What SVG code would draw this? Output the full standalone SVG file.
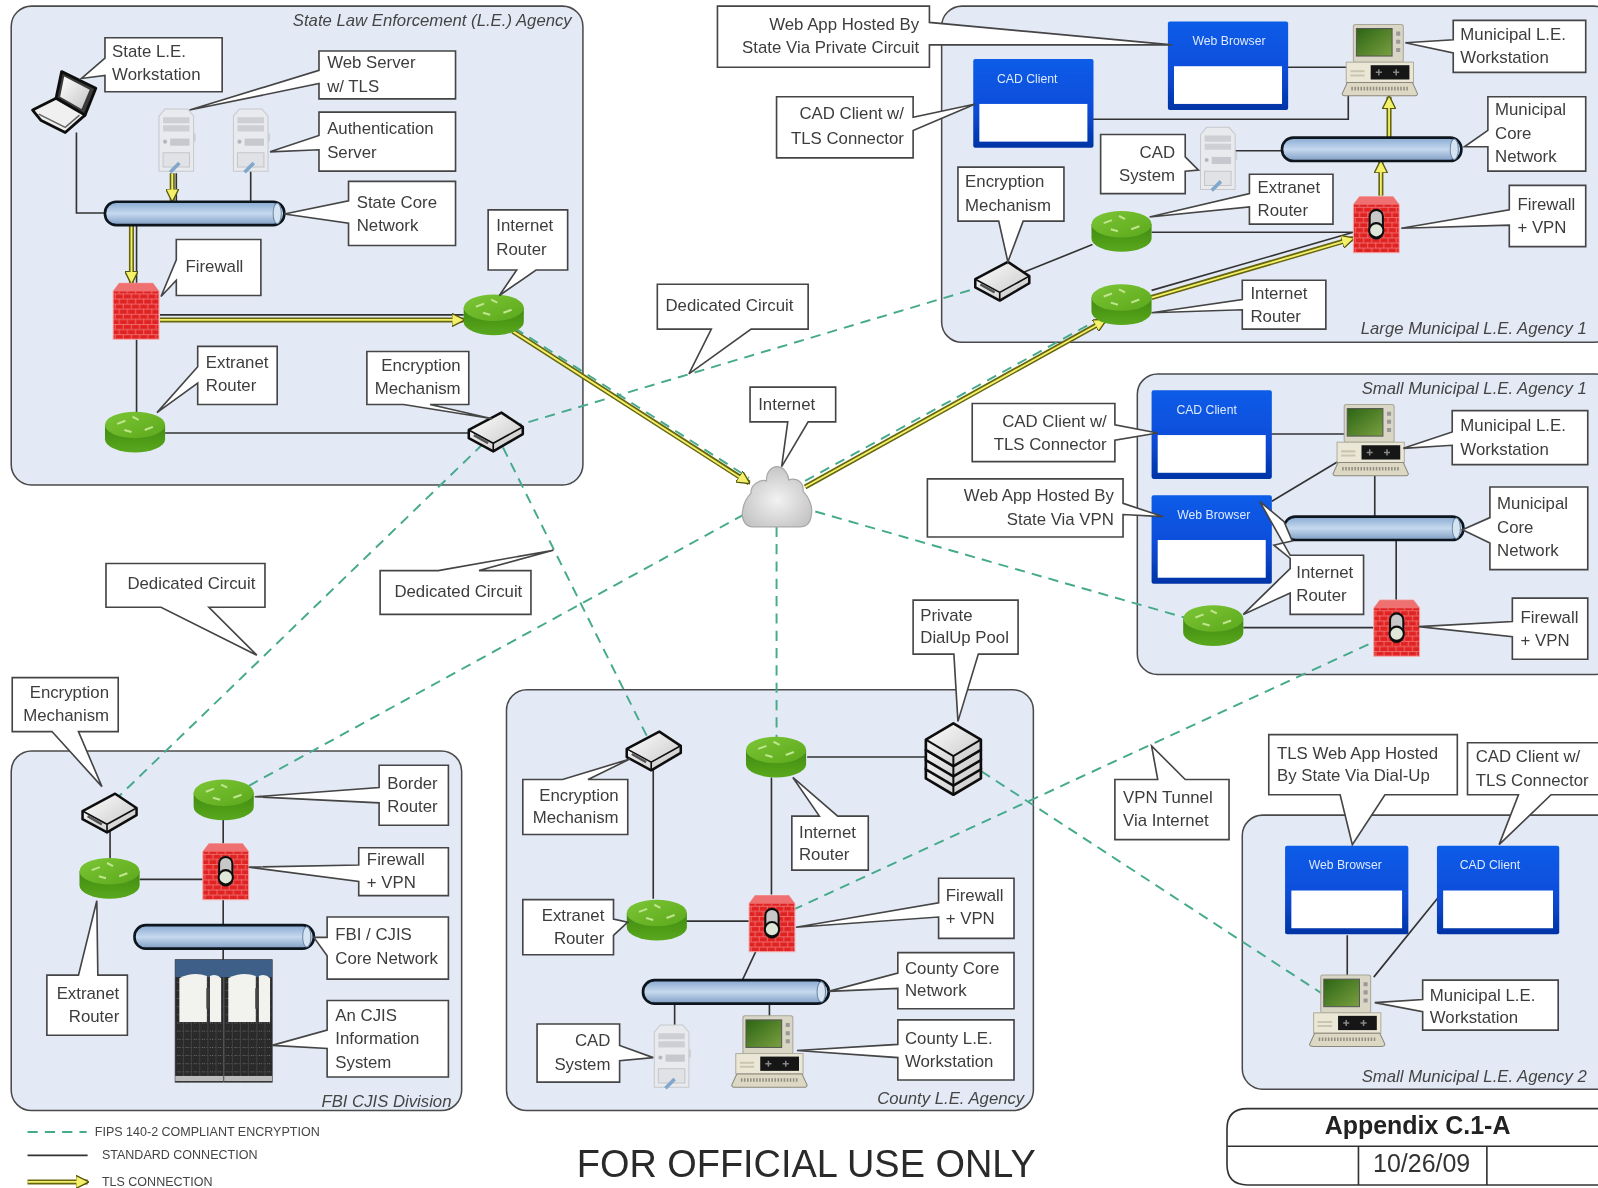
<svg xmlns="http://www.w3.org/2000/svg" width="1598" height="1188" viewBox="0 0 1598 1188">
<style>
.panel{fill:#e3eaf6;stroke:#4a4a4a;stroke-width:1.5}
.co{fill:#fff;stroke:#444;stroke-width:1.6;stroke-linejoin:miter}
.t{font-family:"Liberation Sans",Arial,sans-serif;font-size:16.5px;fill:#3c3c3c}
.r{text-anchor:end}
.p{font-family:"Liberation Sans",Arial,sans-serif;font-size:16.4px;font-style:italic;fill:#444;text-anchor:end}
.w{font-family:"Liberation Sans",Arial,sans-serif;font-size:12px;fill:#dfe9ff;text-anchor:middle}
.l{font-family:"Liberation Sans",Arial,sans-serif;font-size:12.3px;fill:#444}
.s{fill:none;stroke:#333;stroke-width:1.6}
.d{fill:none;stroke:#45a98c;stroke-width:1.9;stroke-dasharray:10 7}
.to{fill:none;stroke:#66660f;stroke-width:5}
.ti{fill:none;stroke:#f4f06a;stroke-width:1.8}
</style>
<defs>
<filter id="soft" x="0" y="0" width="100%" height="100%"><feGaussianBlur stdDeviation="0.4"/></filter>
<linearGradient id="winG" x1="0" y1="0" x2="0" y2="1"><stop offset="0" stop-color="#0b5ce8"/><stop offset=".5" stop-color="#0a4fdc"/><stop offset="1" stop-color="#0434a6"/></linearGradient>
<linearGradient id="tube" x1="0" y1="0" x2="0" y2="1"><stop offset="0" stop-color="#86a9d2"/><stop offset=".5" stop-color="#c6d9ee"/><stop offset="1" stop-color="#7e9dc4"/></linearGradient>
<linearGradient id="rtS" x1="0" y1="0" x2="0" y2="1"><stop offset="0" stop-color="#3f8a0e"/><stop offset="1" stop-color="#5aa81e"/></linearGradient>
<linearGradient id="rtT" x1="0" y1="0" x2="1" y2="1"><stop offset="0" stop-color="#7cc636"/><stop offset="1" stop-color="#5ca81c"/></linearGradient>
<linearGradient id="scr" x1="0" y1="0" x2="1" y2="1"><stop offset="0" stop-color="#2c6414"/><stop offset="1" stop-color="#7aa040"/></linearGradient>
<linearGradient id="grey" x1="0" y1="0" x2="1" y2="1"><stop offset="0" stop-color="#fff"/><stop offset="1" stop-color="#c4c4c4"/></linearGradient>
<radialGradient id="cl" cx=".5" cy=".55" r=".6"><stop offset="0" stop-color="#f2f2f2"/><stop offset="1" stop-color="#c2c2c2"/></radialGradient>
<pattern id="brick" width="8" height="10" patternUnits="userSpaceOnUse"><rect width="8" height="10" fill="#e02424"/><path d="M0,0.5H8M0,5.500H8M2,0V5M6,5V10" stroke="#f27474" stroke-width=".8" fill="none"/></pattern>
<pattern id="vent" width="8" height="8" patternUnits="userSpaceOnUse"><rect width="8" height="8" fill="#2a2a2a"/><path d="M0,4H8" stroke="#777" stroke-width="1" stroke-dasharray="1 2"/><path d="M4,0V8" stroke="#444" stroke-width=".8"/></pattern>
<marker id="head" viewBox="0 0 10 10" refX="9" refY="5" markerWidth="13" markerHeight="13" markerUnits="userSpaceOnUse" orient="auto"><path d="M0,0L10,5L0,10Z" fill="#f4f06a" stroke="#55550a"/></marker>
<g id="window"><rect width="118" height="87" rx="2" fill="url(#winG)"/><rect x="6" y="44" width="106" height="37" fill="#fff"/></g>
<g id="router"><path d="M0,13V27A29.500,13 0 0 0 59,27V13Z" fill="url(#rtS)"/><ellipse cx="29.500" cy="13" rx="29.500" ry="13" fill="url(#rtT)"/><path d="M12,12l8,-3M27,5l6,3M39,18l8,-3M26,20l-7,-2" stroke="#bfe58e" stroke-width="2" fill="none"/></g>
<g id="firewall"><path d="M0,8L6,0H39L45,8V55H0Z" fill="url(#brick)" stroke="#f6a8a8"/><path d="M0,8L6,0H39L45,8Z" fill="#ee7070"/></g>
<g id="lock"><rect x="16" y="13" width="13" height="28" rx="6.500" fill="#c8c8c8" stroke="#111" stroke-width="2"/><circle cx="22.500" cy="33" r="7" fill="#dfe8d8" stroke="#111" stroke-width="2"/></g>
<g id="server"><path d="M1,8L7,1H29L35,8V62H1Z" fill="#e8eaee" stroke="#c6c8cc"/><path d="M5,9H31V15H5ZM5,17H31V23H5Z" fill="#cdcfd4"/><rect x="12" y="30" width="19" height="7" fill="#c6c8cd"/><circle cx="7" cy="33" r="2" fill="#b4b6bc"/><path d="M5,44H31V58H5Z" fill="#e0e2e6" stroke="#c4c6ca"/><path d="M12,63L21,54" stroke="#7fa8cc" stroke-width="3.500" fill="none"/><path d="M35,25h2v8h-2z" fill="#cdcfd4"/></g>
<g id="ws"><rect x="11" y="0" width="49" height="37" rx="2" fill="#d9d6c6" stroke="#a8a698"/><rect x="14" y="4" width="35" height="27" fill="url(#scr)" stroke="#555"/><path d="M53,7h4v4h-4zM53,15h4v4h-4zM53,23h4v4h-4z" fill="#999"/><rect x="4" y="37" width="66" height="20" fill="#ebe7d6" stroke="#b0ad9c"/><rect x="28" y="40" width="38" height="14" fill="#141414"/><path d="M36,44v6M33,47h6M53,44v6M50,47h6" stroke="#888" stroke-width="1.500"/><path d="M8,46h14M8,50h14" stroke="#c9c5b0" stroke-width="2"/><path d="M5,57H69L74,68Q74,70 70,70H4Q0,70 0,68Z" fill="#dcd8c4" stroke="#8a887a"/><path d="M9,63H65" stroke="#8f8d80" stroke-width="3.500" stroke-dasharray="1.500 1.500"/></g>
<g id="enc"><path d="M0,17L32,0L53,14V21L24,38L0,25Z" fill="url(#grey)" stroke="#111" stroke-width="2.500" stroke-linejoin="round"/><path d="M0,17L24,30L53,14M24,30V38" fill="none" stroke="#111" stroke-width="1.600"/><path d="M5,22l14,8" stroke="#555" stroke-width="2.500"/></g>
<g id="slab"><path d="M0,16L27,0L54,16V26L27,42L0,26Z" fill="url(#grey)" stroke="#111" stroke-width="2.600" stroke-linejoin="round"/><path d="M0,16L27,32L54,16M27,32V42" fill="none" stroke="#111" stroke-width="2"/></g>
<g id="tubeS"><rect width="176" height="23" rx="11" fill="url(#tube)" stroke="#10141c" stroke-width="2.600"/><ellipse cx="169" cy="11.500" rx="4" ry="10" fill="#d6e4f2" stroke="#6c88a8"/></g>
</defs>
<g transform="scale(1.0191 1.0189)" filter="url(#soft)">
<rect width="1570" height="1170" fill="#fff"/>
<g id="panels">
<g id="panel-state"><rect class="panel" x="11" y="6" width="561" height="470" rx="20"/><text class="p" x="561" y="26">State Law Enforcement (L.E.) Agency</text></g>
<g id="panel-large"><rect class="panel" x="924" y="6" width="660" height="330" rx="20"/><text class="p" x="1557" y="328">Large Municipal L.E. Agency 1</text></g>
<g id="panel-small1"><rect class="panel" x="1116" y="367" width="470" height="295" rx="20"/><text class="p" x="1557" y="387">Small Municipal L.E. Agency 1</text></g>
<g id="panel-fbi"><rect class="panel" x="11" y="737" width="442" height="353" rx="20"/><text class="p" x="443" y="1086">FBI CJIS Division</text></g>
<g id="panel-county"><rect class="panel" x="497" y="677" width="517" height="413" rx="20"/><text class="p" x="1005" y="1084">County L.E. Agency</text></g>
<g id="panel-small2"><rect class="panel" x="1219" y="800" width="370" height="269" rx="20"/><text class="p" x="1557" y="1062">Small Municipal L.E. Agency 2</text></g>
</g>
<g id="connectors">
<path class="s" d="M75,130V209H103M246,165V198M173,170V198M134,220V280M157,309H455M134,333V405M162,425H460"/>
<path class="s" d="M1262,66H1322M1072,117H1323V90M1208,148H1258M1130,228H1328M1005,267L1072,240M1130,285L1328,228"/>
<path class="s" d="M1246,426H1320M1248,492L1313,453M1349,466V507M1370,530V590M1220,616H1348"/>
<path class="s" d="M108,803V843M219,803V829M137,863H200M219,883V908M219,930V945"/>
<path class="s" d="M641,753V882M757,763V878M792,743H910M673,904H735M742,933L728,963M662,985V1006M755,985V1000"/>
<path class="s" d="M1322,918V957M1416,875L1348,959"/>
<path class="d" d="M486,424L958,283M486,424L108,790M486,424L641,735M505,322L735,469M730,505L219,785M762,517V735M800,502L1190,614M790,472L1075,315M778,893L1348,630M963,757L1320,990"/>
<path class="to" d="M169,170V197" marker-end="url(#head)"/><path class="ti" d="M169,170V191"/>
<path class="to" d="M129,220V278" marker-end="url(#head)"/><path class="ti" d="M129,220V272"/>
<path class="to" d="M157,314H455" marker-end="url(#head)"/><path class="ti" d="M157,314H449"/>
<path class="to" d="M503,325L735,474" marker-end="url(#head)"/><path class="ti" d="M503,325L730,471"/>
<path class="to" d="M790,478L1085,314" marker-end="url(#head)"/><path class="ti" d="M790,478L1080,317"/>
<path class="to" d="M1130,292L1328,234" marker-end="url(#head)"/><path class="ti" d="M1130,292L1322,236"/>
<path class="to" d="M1355,192V158" marker-end="url(#head)"/><path class="ti" d="M1355,192V164"/>
<path class="to" d="M1363,135V95" marker-end="url(#head)"/><path class="ti" d="M1363,135V101"/>
</g>
<g id="n-state-laptop"><path d="M60.500,70.300L94,86.700L83.400,113L55,96.500Z" fill="#3a3a3a" stroke="#111" stroke-width="2.800" stroke-linejoin="round"/><path d="M63,75L88,88L80,107L59,95Z" fill="url(#grey)"/><path d="M55,96.500L32,108L40,118L64,130L83.400,113Z" fill="#f0f0f0" stroke="#111" stroke-width="2.800" stroke-linejoin="round"/><path d="M38,112L64,125L78,113" fill="none" stroke="#666" stroke-width="1.500"/></g>
<g id="n-state-web" transform="translate(155,106)"><use href="#server"/></g>
<g id="n-state-auth" transform="translate(228,106)"><use href="#server"/></g>
<g id="n-state-core" transform="translate(103,198)"><use href="#tubeS"/></g>
<g id="n-state-fw" transform="translate(111,278)"><use href="#firewall"/></g>
<g id="n-state-inet" transform="translate(455,289)"><use href="#router"/></g>
<g id="n-state-ext" transform="translate(103,404)"><use href="#router"/></g>
<g id="n-state-enc" transform="translate(460,405)"><use href="#enc"/></g>
<g id="n-cloud"><path d="M738,517C730,517 727,507 729,500C730,492 733,488 737,484C736,476 746,470 752,472C752,462 758,458 762,458C769,458 773,464 774,471C782,468 789,474 788,482C794,488 798,498 796,506C795,514 790,517 785,517Z" fill="url(#cl)" stroke="#a8a8a8" stroke-width="1.200"/></g>
<g id="n-large-cad"><use href="#window" x="955" y="58"/><text class="w" x="1008" y="81">CAD Client</text></g>
<g id="n-large-web"><use href="#window" x="1146" y="21"/><text class="w" x="1206" y="44">Web Browser</text></g>
<g id="n-large-ws" transform="translate(1317,24)"><use href="#ws"/></g>
<g id="n-large-sys" transform="translate(1177,124)"><use href="#server"/></g>
<g id="n-large-core" transform="translate(1258,135)"><use href="#tubeS"/></g>
<g id="n-large-fw" transform="translate(1328,193)"><use href="#firewall"/><use href="#lock"/></g>
<g id="n-large-ext" transform="translate(1071,207)"><use href="#router"/></g>
<g id="n-large-inet" transform="translate(1071,279)"><use href="#router"/></g>
<g id="n-large-enc" transform="translate(957,257)"><use href="#enc"/></g>
<g id="n-s1-cad"><use href="#window" x="1130" y="383"/><text class="w" x="1184" y="406">CAD Client</text></g>
<g id="n-s1-web"><use href="#window" x="1130" y="486"/><text class="w" x="1191" y="509">Web Browser</text></g>
<g id="n-s1-ws" transform="translate(1308,397)"><use href="#ws"/></g>
<g id="n-s1-core" transform="translate(1260,507)"><use href="#tubeS"/></g>
<g id="n-s1-inet" transform="translate(1161,594)"><use href="#router"/></g>
<g id="n-s1-fw" transform="translate(1348,589)"><use href="#firewall"/><use href="#lock"/></g>
<g id="n-fbi-enc" transform="translate(81,779)"><use href="#enc"/></g>
<g id="n-fbi-border" transform="translate(190,765)"><use href="#router"/></g>
<g id="n-fbi-ext" transform="translate(78,842)"><use href="#router"/></g>
<g id="n-fbi-fw" transform="translate(199,828)"><use href="#firewall"/><use href="#lock"/></g>
<g id="n-fbi-core" transform="translate(132,908)"><use href="#tubeS"/></g>
<g id="n-fbi-rack">
<rect x="172" y="942" width="47" height="120" fill="url(#vent)" stroke="#333"/><rect x="220" y="942" width="47" height="120" fill="url(#vent)" stroke="#333"/>
<rect x="172" y="942" width="95" height="17" fill="#3e5f88"/>
<path d="M176,1003V960Q190,953 203,958V1003Z" fill="#f2f2ee"/><path d="M206,1003V958Q212,955 217,960V1003Z" fill="#f2f2ee"/><path d="M224,1003V960Q238,953 251,958V1003Z" fill="#f2f2ee"/><path d="M254,1003V958Q260,955 265,960V1003Z" fill="#f2f2ee"/>
<path d="M204,970V990M252,970V990" stroke="#444" stroke-width="3"/>
<rect x="172" y="1056" width="47" height="5" fill="#bbb"/><rect x="220" y="1056" width="47" height="5" fill="#bbb"/>
</g>
<g id="n-c-enc" transform="translate(615,718)"><use href="#enc"/></g>
<g id="n-c-inet" transform="translate(732,723)"><use href="#router"/></g>
<g id="n-c-ext" transform="translate(615,883)"><use href="#router"/></g>
<g id="n-c-fw" transform="translate(735,879)"><use href="#firewall"/><use href="#lock"/></g>
<g id="n-c-core" transform="translate(631,962)"><use href="#tubeS" transform="scale(1.035 1)"/></g>
<g id="n-c-sys" transform="translate(641,1005)"><use href="#server"/></g>
<g id="n-c-ws" transform="translate(718,997)"><use href="#ws"/></g>
<g id="n-c-stack"><use href="#slab" x="908.500" y="738"/><use href="#slab" x="908.500" y="729"/><use href="#slab" x="908.500" y="720"/><use href="#slab" x="908.500" y="710"/></g>
<g id="n-s2-web"><use href="#window" transform="translate(1261,830) scale(1.025 1)"/><text class="w" x="1320" y="853">Web Browser</text></g>
<g id="n-s2-cad"><use href="#window" transform="translate(1410,830) scale(1.017 1)"/><text class="w" x="1462" y="853">CAD Client</text></g>
<g id="n-s2-ws" transform="translate(1285,957)"><use href="#ws"/></g>

<g id="c1"><path class="co" d="M103,37H218V90H103V74L80,77L103,57Z"/><text class="t"><tspan x="110" y="56">State L.E.</tspan><tspan x="110" y="79">Workstation</tspan></text></g>
<g id="c2"><path class="co" d="M313,50H447V97H313V82L186,108L313,69Z"/><text class="t"><tspan x="321" y="67">Web Server</tspan><tspan x="321" y="90">w/ TLS</tspan></text></g>
<g id="c3"><path class="co" d="M313,110H447V168H313V147L265,149L313,133Z"/><text class="t"><tspan x="321" y="132">Authentication</tspan><tspan x="321" y="155">Server</tspan></text></g>
<g id="c4"><path class="co" d="M342,178H447V241H342V219L279,210L342,197Z"/><text class="t"><tspan x="350" y="204">State Core</tspan><tspan x="350" y="227">Network</tspan></text></g>
<g id="c5"><path class="co" d="M173,235H256V290H173V275L158,291L173,255Z"/><text class="t" x="182" y="267">Firewall</text></g>
<g id="c6"><path class="co" d="M479,206H557V265H526L490,290L507,265H479Z"/><text class="t"><tspan x="487" y="227">Internet</tspan><tspan x="487" y="250">Router</tspan></text></g>
<g id="c7"><path class="co" d="M194,340H272V397H194V376L154,405L194,360Z"/><text class="t"><tspan x="202" y="361">Extranet</tspan><tspan x="202" y="384">Router</tspan></text></g>
<g id="c8"><path class="co" d="M360,345H460V397H422L483,411L396,397H360Z"/><text class="t r"><tspan x="452" y="364">Encryption</tspan><tspan x="452" y="387">Mechanism</tspan></text></g>
<g id="c9"><path class="co" d="M704,6H912V22L1150,44L912,44V66H704Z"/><text class="t r"><tspan x="902" y="29">Web App Hosted By</tspan><tspan x="902" y="52">State Via Private Circuit</tspan></text></g>
<g id="c10"><path class="co" d="M762,95H896V115L957,102L896,128V155H762Z"/><text class="t r"><tspan x="887" y="117">CAD Client w/</tspan><tspan x="887" y="141">TLS Connector</tspan></text></g>
<g id="c11"><path class="co" d="M940,164H1044V217H1004L989,257L980,217H940Z"/><text class="t"><tspan x="947" y="184">Encryption</tspan><tspan x="947" y="207">Mechanism</tspan></text></g>
<g id="c12"><path class="co" d="M1080,132H1163V154L1176,167L1163,168V190H1080Z"/><text class="t r"><tspan x="1153" y="155">CAD</tspan><tspan x="1153" y="178">System</tspan></text></g>
<g id="c13"><path class="co" d="M1226,171H1308V220H1226V203L1128,213L1226,190Z"/><text class="t"><tspan x="1234" y="189">Extranet</tspan><tspan x="1234" y="212">Router</tspan></text></g>
<g id="c14"><path class="co" d="M1219,275H1301V323H1219V304L1130,307L1219,294Z"/><text class="t"><tspan x="1227" y="293">Internet</tspan><tspan x="1227" y="316">Router</tspan></text></g>
<g id="c15"><path class="co" d="M1426,20H1556V71H1426V52L1379,42L1426,39Z"/><text class="t"><tspan x="1433" y="39">Municipal L.E.</tspan><tspan x="1433" y="62">Workstation</tspan></text></g>
<g id="c16"><path class="co" d="M1460,95H1556V168H1460V144L1437,144L1460,128Z"/><text class="t"><tspan x="1467" y="113">Municipal</tspan><tspan x="1467" y="136">Core</tspan><tspan x="1467" y="159">Network</tspan></text></g>
<g id="c17"><path class="co" d="M1481,182H1556V242H1481V221L1375,224L1481,206Z"/><text class="t"><tspan x="1489" y="206">Firewall</tspan><tspan x="1489" y="229">+ VPN</tspan></text></g>
<g id="c18"><path class="co" d="M954,396H1094V417L1136,425L1094,432V453H954Z"/><text class="t r"><tspan x="1086" y="419">CAD Client w/</tspan><tspan x="1086" y="442">TLS Connector</tspan></text></g>
<g id="c19"><path class="co" d="M910,470H1102V494L1141,507L1102,505V527H910Z"/><text class="t r"><tspan x="1093" y="492">Web App Hosted By</tspan><tspan x="1093" y="515">State Via VPN</tspan></text></g>
<g id="c20"><path class="co" d="M1266,545H1338V603H1266V582L1220,603L1266,558V548L1250,535L1268,531L1260,512L1236,492Z"/><text class="t"><tspan x="1272" y="567">Internet</tspan><tspan x="1272" y="590">Router</tspan></text></g>
<g id="c21"><path class="co" d="M1425,403H1558V456H1425V437L1377,440L1425,424Z"/><text class="t"><tspan x="1433" y="423">Municipal L.E.</tspan><tspan x="1433" y="447">Workstation</tspan></text></g>
<g id="c22"><path class="co" d="M1462,478H1558V559H1462V533L1435,520L1462,508Z"/><text class="t"><tspan x="1469" y="500">Municipal</tspan><tspan x="1469" y="523">Core</tspan><tspan x="1469" y="546">Network</tspan></text></g>
<g id="c23"><path class="co" d="M1484,587H1558V647H1484V625L1392,615L1484,610Z"/><text class="t"><tspan x="1492" y="611">Firewall</tspan><tspan x="1492" y="634">+ VPN</tspan></text></g>
<g id="c24"><path class="co" d="M645,279H793V323H737L676,367L698,323H645Z"/><text class="t" x="653" y="305">Dedicated Circuit</text></g>
<g id="c25"><path class="co" d="M104,553H260V596H205L252,643L158,596H104Z"/><text class="t" x="125" y="578">Dedicated Circuit</text></g>
<g id="c26"><path class="co" d="M373,560H430L543,540L470,560H521V603H373Z"/><text class="t" x="387" y="586">Dedicated Circuit</text></g>
<g id="c27"><path class="co" d="M736,380H820V414H793L767,458L773,414H736Z"/><text class="t" x="744" y="402">Internet</text></g>
<g id="c28"><path class="co" d="M1094,765H1136L1130,732L1163,765H1206V824H1094Z"/><text class="t"><tspan x="1102" y="788">VPN Tunnel</tspan><tspan x="1102" y="811">Via Internet</tspan></text></g>
<g id="c29"><path class="co" d="M896,589H999V642H960L940,708L936,642H896Z"/><text class="t"><tspan x="903" y="609">Private</tspan><tspan x="903" y="631">DialUp Pool</tspan></text></g>
<g id="c30"><path class="co" d="M513,765H552L618,745L577,765H616V819H513Z"/><text class="t r"><tspan x="607" y="786">Encryption</tspan><tspan x="607" y="808">Mechanism</tspan></text></g>
<g id="c31"><path class="co" d="M777,801H804L778,763L822,801H852V854H777Z"/><text class="t"><tspan x="784" y="822">Internet</tspan><tspan x="784" y="844">Router</tspan></text></g>
<g id="c32"><path class="co" d="M513,883H602V902L616,905L602,918V937H513Z"/><text class="t r"><tspan x="593" y="904">Extranet</tspan><tspan x="593" y="926">Router</tspan></text></g>
<g id="c33"><path class="co" d="M921,862H995V921H921V900L781,910L921,886Z"/><text class="t"><tspan x="928" y="884">Firewall</tspan><tspan x="928" y="907">+ VPN</tspan></text></g>
<g id="c34"><path class="co" d="M881,935H995V990H881V970L813,973L881,955Z"/><text class="t"><tspan x="888" y="956">County Core</tspan><tspan x="888" y="978">Network</tspan></text></g>
<g id="c35"><path class="co" d="M881,1001H995V1060H881V1038L782,1031L881,1025Z"/><text class="t"><tspan x="888" y="1025">County L.E.</tspan><tspan x="888" y="1047">Workstation</tspan></text></g>
<g id="c36"><path class="co" d="M527,1005H608V1026L641,1038L608,1041V1062H527Z"/><text class="t r"><tspan x="599" y="1027">CAD</tspan><tspan x="599" y="1050">System</tspan></text></g>
<g id="c37"><path class="co" d="M12,665H116V718H77L100,772L51,718H12Z"/><text class="t r"><tspan x="107" y="685">Encryption</tspan><tspan x="107" y="708">Mechanism</tspan></text></g>
<g id="c38"><path class="co" d="M372,751H440V810H372V788L250,782L372,773Z"/><text class="t"><tspan x="380" y="774">Border</tspan><tspan x="380" y="797">Router</tspan></text></g>
<g id="c39"><path class="co" d="M352,832H440V879H352V865L244,851L352,849Z"/><text class="t"><tspan x="360" y="849">Firewall</tspan><tspan x="360" y="872">+ VPN</tspan></text></g>
<g id="c40"><path class="co" d="M321,900H440V961H321V938L308,920L321,920Z"/><text class="t"><tspan x="329" y="923">FBI / CJIS</tspan><tspan x="329" y="946">Core Network</tspan></text></g>
<g id="c41"><path class="co" d="M321,982H440V1057H321V1029L267,1026L321,1011Z"/><text class="t"><tspan x="329" y="1002">An CJIS</tspan><tspan x="329" y="1025">Information</tspan><tspan x="329" y="1048">System</tspan></text></g>
<g id="c42"><path class="co" d="M46,957H77L95,884L96,957H125V1016H46Z"/><text class="t r"><tspan x="117" y="980">Extranet</tspan><tspan x="117" y="1003">Router</tspan></text></g>
<g id="c43"><path class="co" d="M1245,721H1430V780H1359L1327,829L1315,780H1245Z"/><text class="t"><tspan x="1253" y="745">TLS Web App Hosted</tspan><tspan x="1253" y="767">By State Via Dial-Up</tspan></text></g>
<g id="c44"><path class="co" d="M1440,729H1575V780H1522L1471,829L1490,780H1440Z"/><text class="t"><tspan x="1448" y="748">CAD Client w/</tspan><tspan x="1448" y="771">TLS Connector</tspan></text></g>
<g id="c45"><path class="co" d="M1396,962H1529V1011H1396V993L1349,984L1396,981Z"/><text class="t"><tspan x="1403" y="982">Municipal L.E.</tspan><tspan x="1403" y="1004">Workstation</tspan></text></g>

<g id="legend">
<path class="d" d="M27,1111H85"/><text class="l" x="93" y="1115">FIPS 140-2 COMPLIANT ENCRYPTION</text>
<path class="s" d="M27,1134H86"/><text class="l" x="100" y="1138">STANDARD CONNECTION</text>
<path class="to" d="M27,1160H86" marker-end="url(#head)"/><path class="ti" d="M27,1160H80"/><text class="l" x="100" y="1164">TLS CONNECTION</text>
</g>
<text id="fouo" x="566" y="1155" font-family="Liberation Sans, Arial, sans-serif" font-size="37.200" fill="#2a2a2a">FOR OFFICIAL USE ONLY</text>
<g id="title-block">
<path d="M1590,1088H1224Q1204,1088 1204,1108V1143Q1204,1163 1224,1163H1590M1204,1125H1590M1333,1125V1163M1459,1125V1163" fill="#fff" stroke="#333" stroke-width="1.600"/>
<text x="1391" y="1113" font-family="Liberation Sans, Arial, sans-serif" font-size="24.500" font-weight="bold" fill="#222" text-anchor="middle">Appendix C.1-A</text>
<text x="1395" y="1150" font-family="Liberation Sans, Arial, sans-serif" font-size="24.500" fill="#333" text-anchor="middle">10/26/09</text>
</g>
</g>
</svg>
